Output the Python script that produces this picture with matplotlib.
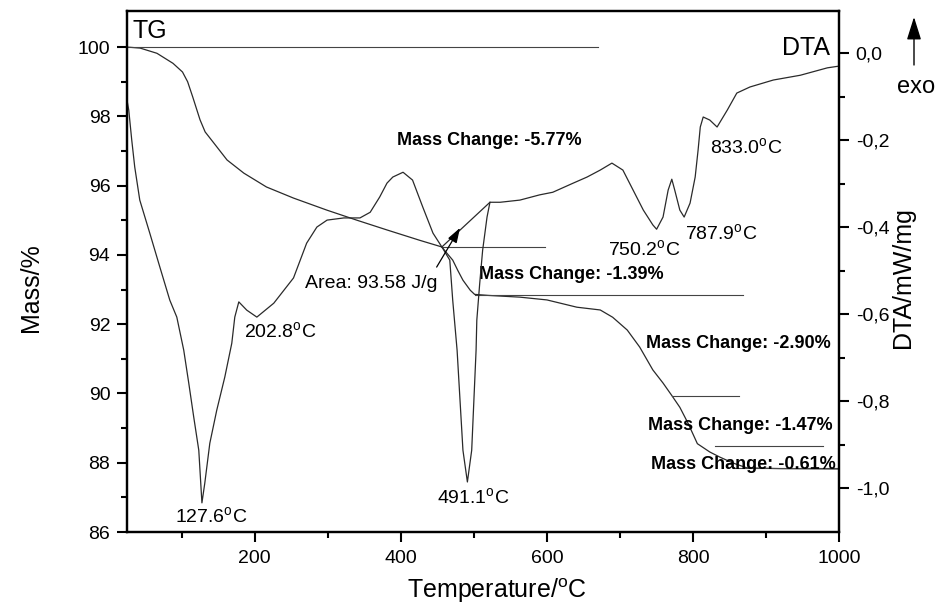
import matplotlib
matplotlib.use("Agg")
import numpy as np
import matplotlib.pyplot as plt
from matplotlib.patches import FancyArrowPatch
from matplotlib.ticker import FixedLocator, FuncFormatter

plt.rcParams['font.family'] = ['Liberation Sans', 'DejaVu Sans']
plt.rcParams['mathtext.fontset'] = 'custom'
plt.rcParams['mathtext.rm'] = 'Liberation Sans'
plt.rcParams['mathtext.it'] = 'Liberation Sans:italic'
plt.rcParams['mathtext.bf'] = 'Liberation Sans:bold'
plt.rcParams['axes.unicode_minus'] = False

# ---------------- data ----------------
# TG curve: temperature (°C) and residual mass (%)
tg_temp = [25, 43, 66, 88, 101, 108, 115, 125, 132, 145, 162, 185, 216, 253,
           299, 340, 381, 426, 456, 463, 471, 478, 485, 495, 501, 520, 563,
           600, 641, 673, 690, 710, 727, 745, 759, 771, 782, 793, 806, 823,
           837, 855, 874, 920, 1000]
tg_mass = [100.0, 99.97, 99.82, 99.53, 99.28, 99.0, 98.56, 97.9, 97.55, 97.2,
           96.74, 96.36, 95.96, 95.64, 95.29, 95.0, 94.72, 94.42, 94.23, 94.05,
           93.85, 93.55, 93.27, 92.98, 92.86, 92.83, 92.78, 92.70, 92.49, 92.41,
           92.2, 91.83, 91.34, 90.68, 90.3, 89.94, 89.6, 89.15, 88.55, 88.31,
           88.16, 87.99, 87.85, 87.83, 87.82]

# DTA curve: temperature (°C) and signal (mW/mg)
dta_temp = [25, 27.4, 31.5, 35.6, 42.5, 56.2, 70, 83.6, 93.2, 102.7, 109.6,
            116.4, 123.3, 127.6, 131.5, 138.4, 147.9, 158.9, 168.5, 172.6,
            178.1, 189, 202.8, 226, 253, 271, 285, 299, 322, 344, 358, 371,
            381, 389, 403, 416, 430, 444, 457, 467, 471, 477, 481, 485, 491.1,
            497, 500, 503, 504, 508, 512, 518, 522, 536, 563, 590, 608, 636,
            655, 673, 689, 704, 718, 732, 745, 750.2, 759, 766, 771, 775, 782,
            787.9, 796, 803, 807, 810, 814, 823, 833.0, 847, 860, 878, 910,
            947, 984, 1000]
dta_val = [-0.108, -0.131, -0.200, -0.262, -0.338, -0.414, -0.492, -0.568,
           -0.607, -0.683, -0.759, -0.837, -0.913, -1.034, -0.989, -0.897,
           -0.821, -0.745, -0.667, -0.607, -0.572, -0.591, -0.607, -0.575,
           -0.517, -0.437, -0.400, -0.384, -0.379, -0.379, -0.366, -0.331,
           -0.299, -0.285, -0.274, -0.292, -0.354, -0.414, -0.448, -0.476,
           -0.568, -0.683, -0.798, -0.913, -0.986, -0.913, -0.798, -0.683,
           -0.614, -0.529, -0.453, -0.377, -0.343, -0.343, -0.338, -0.326,
           -0.320, -0.299, -0.285, -0.269, -0.253, -0.269, -0.315, -0.361,
           -0.395, -0.405, -0.377, -0.315, -0.290, -0.315, -0.361, -0.377,
           -0.345, -0.285, -0.223, -0.170, -0.147, -0.154, -0.170, -0.131,
           -0.092, -0.078, -0.062, -0.051, -0.034, -0.030]

# mass-change steps (%), and temperature span of each level line
mass_changes = [5.77, 1.39, 2.90, 1.47, 0.61]
level_start = [25, 457, 501, 771, 830, 855]
level_end = [670, 597, 868, 863, 978, 1000]

# DTA peak temperatures
peak_temps = [127.6, 202.8, 491.1, 750.2, 787.9, 833.0]

# integration baseline under the 491 °C peak
area_temp = [456, 522]
area_dta = [-0.446, -0.343]
area_value = 93.58

x_major = [200, 400, 600, 800, 1000]
x_minor = [100, 300, 500, 700, 900]
tg_major = [86, 88, 90, 92, 94, 96, 98, 100]
tg_minor = [87, 89, 91, 93, 95, 97, 99]
dta_major = [0.0, -0.2, -0.4, -0.6, -0.8, -1.0]
dta_minor = [-0.1, -0.3, -0.5, -0.7, -0.9]

# ---------------- figure ----------------
fig = plt.figure(figsize=(9.4, 6.06), dpi=100)
ax = fig.add_axes([0.1351, 0.1221, 0.7575, 0.8597])
ax2 = ax.twinx()

line_col = '#2a2a2a'
ax.plot(tg_temp, tg_mass, color=line_col, lw=0.9)
ax2.plot(dta_temp, dta_val, color=line_col, lw=0.9)

# step levels of the mass-change evaluation
levels = [100.0]
for c in mass_changes:
    levels.append(round(levels[-1] - c, 2))
for s, e, lv in zip(level_start, level_end, levels):
    ax.plot([s, e], [lv, lv], color='#444444', lw=0.8)

# area baseline and pointer
ax2.plot(area_temp, area_dta, color=line_col, lw=0.9)
ax2.annotate('', xy=(481, -0.402), xytext=(449, -0.492),
             arrowprops=dict(arrowstyle='-|>,head_length=0.9,head_width=0.3',
                             color='black', lw=0.9, shrinkA=0, shrinkB=0))
ax2.text(359, -0.540, f'Area: {area_value:.2f} J/g', fontsize=14,
         ha='center', va='baseline')

# axes limits and ticks
ax.set_xlim(25, 1000)
ax.set_ylim(86, 101.04)
ax2.set_ylim(-1.101, 0.0966)

ax.xaxis.set_major_locator(FixedLocator(x_major))
ax.xaxis.set_minor_locator(FixedLocator(x_minor))
ax.yaxis.set_major_locator(FixedLocator(tg_major))
ax.yaxis.set_minor_locator(FixedLocator(tg_minor))
ax2.yaxis.set_major_locator(FixedLocator(dta_major))
ax2.yaxis.set_minor_locator(FixedLocator(dta_minor))
ax2.yaxis.set_major_formatter(
    FuncFormatter(lambda v, p: f'{v:.1f}'.replace('.', ',').replace('-0,0', '0,0')))

for a in (ax, ax2):
    for sp in a.spines.values():
        sp.set_linewidth(1.6)
ax.tick_params(which='major', direction='out', length=7, width=1.5,
               labelsize=14, top=False, right=False, pad=5)
ax.tick_params(which='minor', direction='out', length=4, width=1.5,
               top=False, right=False)
ax.tick_params(axis='x', which='major', pad=6)
ax2.tick_params(which='major', direction='out', length=7, width=1.5,
                labelsize=14, left=False, pad=5)
ax2.tick_params(which='minor', direction='out', length=4, width=1.5, left=False)

# peak labels
deg = r'$^{\mathrm{o}}$C'
peak_pos = [(139.7, -1.078), (234.2, -0.653), (498.6, -1.034),
            (732.9, -0.464), (838.4, -0.428), (872.6, -0.230)]
for t, (px, py) in zip(peak_temps, peak_pos):
    ax2.text(px, py, f'{t:.1f}' + deg, fontsize=14, ha='center', va='baseline')

# mass-change labels
mc_pos = [(520.6, 97.17), (634, 93.30), (861.6, 91.31), (864.4, 88.94),
          (868.5, 87.82)]
for c, (px, py) in zip(mass_changes, mc_pos):
    ax.text(px, py, f'Mass Change: -{c:.2f}%', fontsize=13, fontweight='bold',
            ha='center', va='baseline')

# curve names
ax.text(0.0084, 0.948, 'TG', transform=ax.transAxes, fontsize=18,
        ha='left', va='baseline')
ax.text(0.987, 0.9155, 'DTA', transform=ax.transAxes, fontsize=18,
        ha='right', va='baseline')

# axis titles
fig.text(497 / 940, 8 / 606, 'Temperature/' + deg, fontsize=18,
         ha='center', va='baseline')
fig.text(38 / 940, 1 - 288 / 606, 'Mass/%', fontsize=18, rotation=90,
         rotation_mode='anchor', ha='center', va='baseline')
fig.text(910 / 940, 1 - 278 / 606, 'DTA/mW/mg', fontsize=18, rotation=90,
         rotation_mode='anchor', ha='center', va='baseline')

# exothermic direction marker
fig.text(897 / 940, 1 - 93 / 606, 'exo', fontsize=17, ha='left', va='baseline')
fig.add_artist(FancyArrowPatch(
    (914 / 940, 1 - 65 / 606), (914 / 940, 1 - 17 / 606),
    transform=fig.transFigure, arrowstyle='-|>,head_length=0.7,head_width=0.22',
    mutation_scale=20, color='black', lw=1.0, shrinkA=0, shrinkB=0))

fig.savefig('out.png', dpi=100)
